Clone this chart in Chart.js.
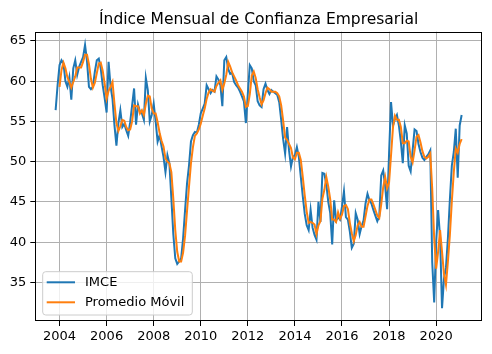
<!DOCTYPE html>
<html><head><meta charset="utf-8">
<script src="https://cdn.jsdelivr.net/npm/chart.js@4"></script>
<style>html,body{margin:0;padding:0;background:#fff;}canvas{display:block;}</style>
</head><body>
<canvas id="c" width="492" height="354"></canvas>
<script>
const titleText = 'Índice Mensual de Confianza Empresarial';
const seriesNames = ['IMCE', 'Promedio Móvil'];
const startYear = 2003, startMonth = 11; // first month of the series (Nov 2003)

// IMCE, monthly, Nov 2003 – Feb 2021
const imce = [
  56.4, 59.5,
  62.0, 62.6, 62.2, 60.0, 59.3, 60.5, 57.7, 61.6, 62.6, 60.8, 61.8, 62.4,
  63.0, 64.5, 62.5, 59.3, 59.0, 59.3, 61.2, 62.6, 62.8, 61.6, 59.5, 57.9,
  56.1, 62.4, 59.4, 57.8, 54.5, 52.0, 54.8, 56.4, 54.3, 54.7, 53.9, 53.2,
  54.9, 57.0, 59.1, 54.6, 57.1, 56.2, 56.0, 55.2, 60.4, 58.9, 55.0, 55.8,
  57.2, 55.0, 52.5, 53.3, 51.9, 50.6, 48.7, 50.8, 49.8, 45.5, 41.0, 38.0,
  37.3, 37.6, 38.0, 40.5, 44.0, 47.3, 49.5, 52.5, 53.3, 53.7, 53.6, 54.6,
  56.0, 56.6, 57.2, 59.5, 59.0, 58.5, 58.9, 58.7, 60.6, 60.2, 59.5, 56.9,
  62.6, 63.0, 61.5, 60.9, 61.0, 59.9, 59.5, 59.2, 58.7, 58.1, 57.5, 54.8,
  58.5, 62.0, 61.6, 60.0, 59.5, 57.5, 57.0, 56.8, 59.0, 59.7, 58.9, 58.4,
  58.9, 58.7, 58.5, 58.3, 57.4, 55.2, 52.8, 51.0, 54.3, 51.4, 49.4, 50.6,
  50.8, 51.8, 50.6, 48.1, 45.7, 43.5, 42.1, 41.5, 44.0, 41.8, 40.9, 40.3,
  45.0, 42.5, 48.6, 48.5, 47.2, 45.0, 43.6, 39.7, 45.2, 42.7, 43.1, 42.8,
  44.4, 46.3, 43.1, 42.8, 41.3, 39.3, 39.8, 43.6, 42.8, 41.0, 42.0, 42.7,
  44.8, 46.0, 45.2, 44.8, 44.0, 43.3, 42.6, 43.2, 48.3, 48.9, 47.0, 44.1,
  51.0, 57.4, 54.5, 55.3, 55.8, 54.5, 52.5, 49.8, 54.5, 53.5, 49.5, 48.8,
  51.4, 54.0, 53.8, 52.2, 51.2, 50.5, 50.2, 50.6, 50.9, 51.4, 37.5, 32.5,
  40.0, 44.0, 40.6, 31.8, 35.5, 36.8, 40.5, 45.3, 49.5, 51.2, 54.1, 48.0,
  54.5, 55.8
];

// Promedio Móvil (starts Jan 2004)
const promedio = [
  null, null,
  59.3, 61.4, 62.3, 61.6, 60.5, 59.9, 59.2, 59.9, 60.6, 61.7, 61.7, 61.7,
  62.4, 63.3, 63.3, 62.1, 60.3, 59.2, 59.8, 61.0, 62.2, 62.3, 61.3, 59.7,
  57.8, 58.8, 59.3, 59.9, 57.2, 54.8, 53.8, 54.4, 55.2, 55.1, 54.3, 53.9,
  54.0, 55.0, 57.0, 56.9, 56.9, 56.0, 56.4, 55.8, 57.2, 58.2, 58.1, 56.6,
  56.0, 56.0, 54.9, 53.6, 52.6, 51.9, 50.4, 50.0, 49.8, 48.7, 45.4, 41.5,
  38.8, 37.6, 37.6, 38.7, 40.8, 43.9, 46.9, 49.8, 51.8, 53.2, 53.5, 54.0,
  54.7, 55.7, 56.6, 57.8, 58.6, 59.0, 58.8, 58.7, 59.4, 59.8, 60.1, 58.9,
  59.7, 60.8, 62.4, 61.8, 61.1, 60.6, 60.1, 59.5, 59.1, 58.7, 58.1, 56.8,
  56.9, 58.4, 60.7, 61.2, 60.4, 59.0, 58.0, 57.1, 57.6, 58.5, 59.2, 59.0,
  58.7, 58.7, 58.7, 58.5, 58.1, 57.0, 55.1, 53.0, 52.7, 52.2, 51.7, 50.5,
  50.3, 51.1, 51.1, 50.2, 48.1, 45.8, 43.8, 42.4, 42.5, 42.4, 42.2, 41.0,
  42.1, 42.6, 45.4, 46.5, 48.1, 46.9, 45.3, 42.8, 42.8, 42.5, 43.7, 42.9,
  43.4, 44.5, 44.6, 44.1, 42.4, 41.1, 40.1, 40.9, 42.1, 42.5, 41.9, 41.9,
  43.2, 44.5, 45.3, 45.3, 44.7, 44.0, 43.3, 43.0, 44.7, 46.8, 48.1, 46.7,
  47.4, 50.8, 54.3, 55.7, 55.2, 55.2, 54.3, 52.3, 52.3, 52.6, 52.5, 50.6,
  49.9, 51.4, 53.1, 53.3, 52.4, 51.3, 50.6, 50.4, 50.6, 51.0, 46.6, 40.5,
  36.7, 38.8, 41.5, 38.8, 36.0, 34.7, 37.6, 40.9, 45.1, 48.7, 51.6, 51.1,
  52.2, 52.8
];

const xTickYears = [2004, 2006, 2008, 2010, 2012, 2014, 2016, 2018, 2020];
const yTickValues = [35, 40, 45, 50, 55, 60, 65];

// month labels "YYYY-MM" for each observation, and their position in years
const months = imce.map((_, i) => {
  const m = startMonth - 1 + i;
  return (startYear + Math.floor(m / 12)) + '-' + String(m % 12 + 1).padStart(2, '0');
});
const xPos = months.map(s => { const p = s.split('-').map(Number); return p[0] + (p[1] - 1) / 12; });

const FONT = '"DejaVu Sans", "Liberation Sans", sans-serif';
const COLORS = ['#1f77b4', '#ff7f0e'];

const decor = {
  id: 'decor',
  afterDraw(chart) {
    const { ctx, chartArea: a } = chart;
    ctx.save();
    // frame
    ctx.strokeStyle = '#000';
    ctx.lineWidth = 1;
    const L = Math.round(a.left) + 0.5, T = Math.round(a.top) + 0.5;
    const R = Math.round(a.right) - 0.5, B = Math.round(a.bottom) - 0.5;
    ctx.strokeRect(L, T, R - L, B - T);
    // title
    ctx.fillStyle = '#000';
    ctx.font = '15.5px ' + FONT;
    ctx.textAlign = 'center';
    ctx.textBaseline = 'alphabetic';
    ctx.fillText(titleText, (a.left + a.right) / 2, 24);
    // legend
    const bx = a.left + 7.4, by = a.bottom - 49.3, bw = 149.6, bh = 43.3, r = 3;
    ctx.beginPath();
    ctx.moveTo(bx + r, by);
    ctx.lineTo(bx + bw - r, by); ctx.quadraticCurveTo(bx + bw, by, bx + bw, by + r);
    ctx.lineTo(bx + bw, by + bh - r); ctx.quadraticCurveTo(bx + bw, by + bh, bx + bw - r, by + bh);
    ctx.lineTo(bx + r, by + bh); ctx.quadraticCurveTo(bx, by + bh, bx, by + bh - r);
    ctx.lineTo(bx, by + r); ctx.quadraticCurveTo(bx, by, bx + r, by);
    ctx.closePath();
    ctx.fillStyle = 'rgba(255,255,255,0.8)';
    ctx.fill();
    ctx.strokeStyle = '#cccccc';
    ctx.lineWidth = 1;
    ctx.stroke();
    ctx.font = '13px ' + FONT;
    ctx.textAlign = 'left';
    ctx.textBaseline = 'middle';
    seriesNames.forEach((name, k) => {
      const ly = by + 10.6 + k * 20;
      ctx.strokeStyle = COLORS[k];
      ctx.lineWidth = 2;
      ctx.beginPath(); ctx.moveTo(bx + 4, ly); ctx.lineTo(bx + 32.3, ly); ctx.stroke();
      ctx.fillStyle = '#000';
      ctx.fillText(name, bx + 42.3, ly + 0.5);
    });
    ctx.restore();
  }
};

new Chart(document.getElementById('c'), {
  type: 'line',
  data: {
    datasets: [
      { label: seriesNames[0], data: xPos.map((x, i) => ({ x, y: imce[i] })),
        borderColor: COLORS[0], backgroundColor: COLORS[0], borderWidth: 2, pointRadius: 0, tension: 0, fill: false, order: 1 },
      { label: seriesNames[1], data: xPos.map((x, i) => ({ x, y: promedio[i] })),
        borderColor: COLORS[1], backgroundColor: COLORS[1], borderWidth: 2, pointRadius: 0, tension: 0, fill: false, spanGaps: false, order: 0 }
    ]
  },
  options: {
    responsive: false,
    animation: false,
    devicePixelRatio: 1,
    layout: { padding: { top: 31.7, right: 10, left: 0, bottom: 0 } },
    plugins: { legend: { display: false }, title: { display: false }, tooltip: { enabled: false } },
    scales: {
      x: {
        type: 'linear', min: 2002.97, max: 2021.948,
        afterBuildTicks: s => { s.ticks = xTickYears.map(v => ({ value: v })); },
        afterFit: s => { s.height = 33; },
        ticks: { callback: v => String(v), font: { family: FONT, size: 13 }, color: '#000', padding: 3, maxRotation: 0, autoSkip: false },
        grid: { color: '#b0b0b0', lineWidth: 1, tickColor: '#000', tickLength: 5, tickWidth: 1 },
        border: { display: false }
      },
      y: {
        type: 'linear', min: 30.2, max: 66.15,
        afterBuildTicks: s => { s.ticks = yTickValues.map(v => ({ value: v })); },
        afterFit: s => { s.width = 35.3; },
        ticks: { callback: v => String(v), font: { family: FONT, size: 13 }, color: '#000', padding: 4, autoSkip: false },
        grid: { color: '#b0b0b0', lineWidth: 1, tickColor: '#000', tickLength: 5, tickWidth: 1 },
        border: { display: false }
      }
    }
  },
  plugins: [decor]
});
</script>
</body></html>
